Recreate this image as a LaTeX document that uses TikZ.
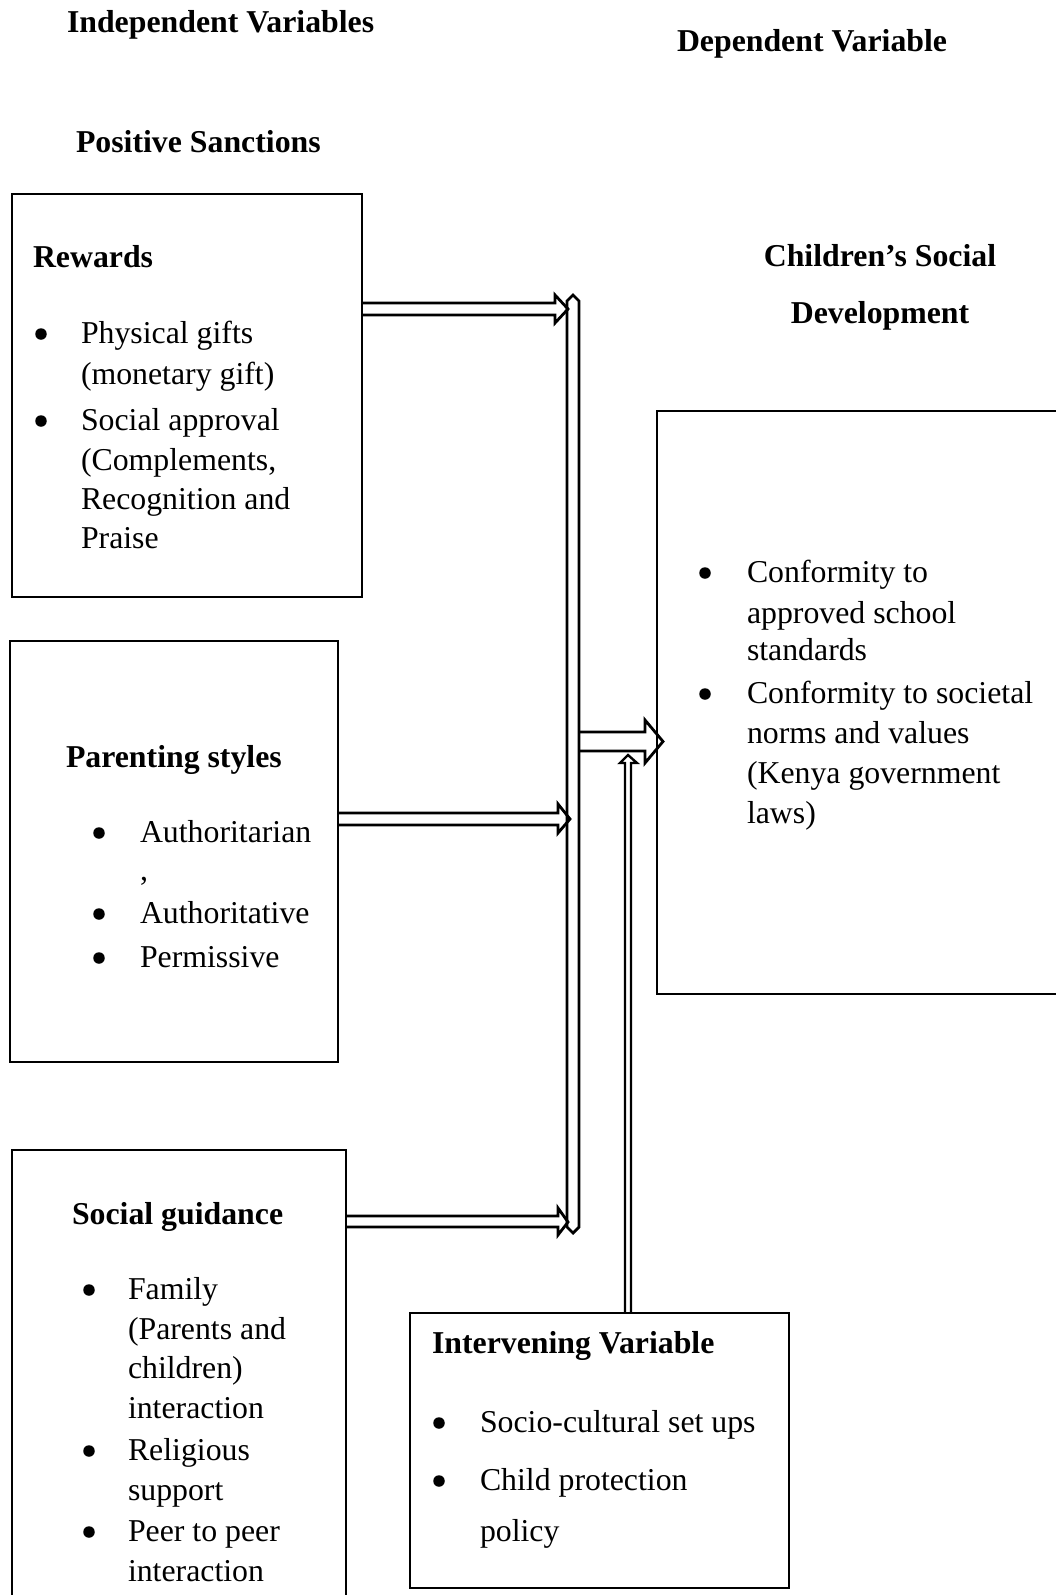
\documentclass[tikz,border=0pt]{standalone}
\usepackage{fontspec}
\setmainfont{Liberation Serif}
\begin{document}
\begin{tikzpicture}[x=1pt,y=-1pt,
  box/.style={draw, line width=2.2pt, rectangle, inner sep=0pt, outer sep=0pt, anchor=north west},
  txt/.style={anchor=base west, inner sep=0pt, outer sep=0pt, font=\fontsize{31.8}{40}\selectfont},
  hd/.style={anchor=base west, inner sep=0pt, outer sep=0pt, font=\fontsize{31.8}{40}\selectfont\bfseries},
  bul/.style={circle, fill=black, inner sep=0pt, outer sep=0pt, minimum size=11.5pt, yshift=9pt},
  blk/.style={draw, line width=2.8pt, line join=miter, miter limit=4}
]
\useasboundingbox (0,0) rectangle (1056,1595);
\clip (0,0) rectangle (1056,1595);

% headings
\node[hd] (indep) at (67,33) {Independent Variables};
\node[hd] (depv) at (677,52) {Dependent Variable};
\node[hd] (pos) at (76,152) {Positive Sanctions};
\node[hd, anchor=base] (csd1) at (880,266) {Children’s Social};
\node[hd, anchor=base] (csd2) at (880,323) {Development};

% boxes
\node[box, minimum width=350pt, minimum height=403pt] (rew) at (12,194) {};
\node[box, minimum width=328pt, minimum height=421pt] (par) at (10,641) {};
\node[box, minimum width=334pt, minimum height=480pt] (soc) at (12,1150) {};
\node[box, minimum width=379pt, minimum height=275pt] (int) at (410,1313) {};
\node[box, minimum width=430pt, minimum height=583pt] (dep) at (657,411) {};

% Rewards
\node[hd] (rewt) at (33,267) {Rewards};
\node[bul] (rb1) at (41,343) {};
\node[txt] (r1) at (81,343) {Physical gifts};
\node[txt] (r2) at (81,384) {(monetary gift)};
\node[bul] (rb2) at (41,430) {};
\node[txt] (r3) at (81,430) {Social approval};
\node[txt] (r4) at (81,470) {(Complements,};
\node[txt] (r5) at (81,509) {Recognition and};
\node[txt] (r6) at (81,548) {Praise};

% Parenting styles
\node[hd] (part) at (66,767) {Parenting styles};
\node[bul] (pb1) at (99,842) {};
\node[txt] (p1) at (140,842) {Authoritarian};
\node[txt] (p2) at (140,880) {,};
\node[bul] (pb2) at (99,923) {};
\node[txt] (p3) at (140,923) {Authoritative};
\node[bul] (pb3) at (99,967) {};
\node[txt] (p4) at (140,967) {Permissive};

% Social guidance
\node[hd] (soct) at (72,1224) {Social guidance};
\node[bul] (sb1) at (89,1299) {};
\node[txt] (s1) at (128,1299) {Family};
\node[txt] (s2) at (128,1339) {(Parents and};
\node[txt] (s3) at (128,1378) {children)};
\node[txt] (s4) at (128,1418) {interaction};
\node[bul] (sb2) at (89,1460) {};
\node[txt] (s5) at (128,1460) {Religious};
\node[txt] (s6) at (128,1500) {support};
\node[bul] (sb3) at (89,1541) {};
\node[txt] (s7) at (128,1541) {Peer to peer};
\node[txt] (s8) at (128,1581) {interaction};

% Intervening
\node[hd] (intt) at (432,1353) {Intervening Variable};
\node[bul] (ib1) at (439,1432) {};
\node[txt] (i1) at (480,1432) {Socio-cultural set ups};
\node[bul] (ib2) at (439,1490) {};
\node[txt] (i2) at (480,1490) {Child protection};
\node[txt] (i3) at (480,1541) {policy};

% Dependent
\node[bul] (db1) at (705,582) {};
\node[txt] (d1) at (747,582) {Conformity to};
\node[txt] (d2) at (747,623) {approved school};
\node[txt] (d3) at (747,660) {standards};
\node[bul] (db2) at (705,703) {};
\node[txt] (d4) at (747,703) {Conformity to societal};
\node[txt] (d5) at (747,743) {norms and values};
\node[txt] (d6) at (747,783) {(Kenya government};
\node[txt] (d7) at (747,823) {laws)};

% collecting bar
\coordinate (bartop) at (573,295);
\coordinate (barbot) at (573,1233);
\draw[blk] (bartop) -- (579,301) -- (579,1227) -- (barbot) -- (567,1227) -- (567,301) -- cycle;

% arrows into the bar
\draw[blk] (rew.east |- 0,303) -- (555,303) -- (555,295) -- (568,309) -- (555,323) -- (555,315) -- (rew.east |- 0,315);
\draw[blk] (par.east |- 0,813) -- (558,813) -- (558,804) -- (570,819) -- (558,833) -- (558,825) -- (par.east |- 0,825);
\draw[blk] (soc.east |- 0,1216) -- (558,1216) -- (558,1208) -- (568,1222) -- (558,1235) -- (558,1227) -- (soc.east |- 0,1227);

% output arrow
\coordinate (outtip) at (663,741.5);
\draw[blk] (579,732) -- (645,732) -- (645,720) -- (outtip) -- (645,763) -- (645,751) -- (579,751);

% intervening arrow
\draw[blk, line width=2.4pt] (int.north -| 625,0) -- (625,763) -- (620,763) -- (628,755) -- (637,763) -- (631,763) -- (int.north -| 631,0);
\end{tikzpicture}
\end{document}
